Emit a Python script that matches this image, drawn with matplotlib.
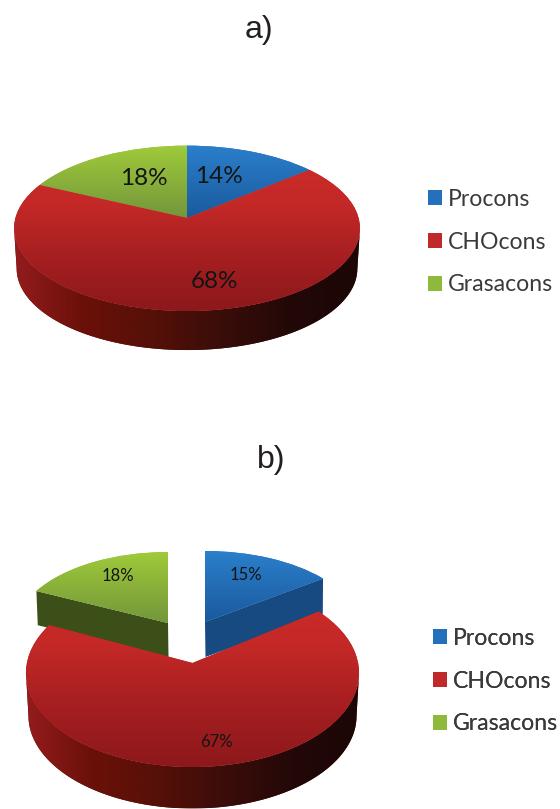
import numpy as np
import matplotlib
matplotlib.use("Agg")
import matplotlib.pyplot as plt
from matplotlib.colors import LinearSegmentedColormap as LSC
from matplotlib.patches import Polygon, Patch
from matplotlib.transforms import Transform

categories = ["Procons", "CHOcons", "Grasacons"]
values_a = [14, 68, 18]
values_b = [15, 67, 18]
panel_titles = ["a)", "b)"]

BLUE = "#2470bb"; RED = "#c0282a"; GREEN = "#8fb93b"
top_maps = [LSC.from_list("b", ["#2b7fcb", "#1a5a9e"]),
            LSC.from_list("r", [(0, "#cc2c29"), (0.35, "#c42927"), (0.7, "#a41e20"), (1, "#8c181b")]),
            LSC.from_list("g", ["#9fcb3b", "#73963a"])]
side_map = LSC.from_list("s", ["#941c1d", "#6a1009", "#551008", "#3a0d0a", "#230808", "#1c0606"])


class Persp(Transform):
    """Projects the unit-circle pie onto a tilted plane, in pixel coordinates."""
    input_dims = output_dims = 2
    is_separable = False

    def __init__(self, cx, cy, A, B, k):
        super().__init__()
        self.p = (cx, cy, A, B, k)

    def transform_non_affine(self, v):
        v = np.asarray(v, float)
        cx, cy, A, B, k = self.p
        w = 1 + k * v[:, 1]
        return np.column_stack([cx + A * v[:, 0] / w, cy - B * v[:, 1] / w])


def unit(deg):
    t = np.radians(deg)
    return np.column_stack([np.cos(t), np.sin(t)])


def gradient(ax, patch, cmap, x0, x1, y0, y1, horizontal, z):
    g = np.linspace(0, 1, 256)
    arr = g[None, :] if horizontal else g[:, None]
    im = ax.imshow(arr, extent=[x0, x1, y1, y0], cmap=cmap, vmin=0, vmax=1,
                   aspect="auto", zorder=z, interpolation="bilinear")
    im.set_clip_path(patch)


def front_arc(T, th):
    pts = T.transform(unit(th))
    i, j = np.argmax(pts[:, 0]), np.argmin(pts[:, 0])
    return pts[min(i, j):max(i, j) + 1]


def draw_pie(ax, values, geoms, depth_geoms, cut_colors, z0):
    """geoms: one projection per wedge; the largest wedge is drawn last."""
    wedges, _ = ax.pie(values, startangle=90, counterclock=False, radius=1,
                       colors=[BLUE, RED, GREEN])
    edges = 90 - 3.6 * np.cumsum([0] + list(values))
    z = z0
    for i in [0, 2, 1]:
        P = Persp(*geoms[i]); Q = Persp(*depth_geoms[i])
        a0, a1 = edges[i], edges[i + 1]
        if i == 1:  # outer wall, front of the big slice
            th = np.linspace(a0, a1, 480)
            pts = np.vstack([front_arc(P, th), front_arc(Q, th)[::-1]])
            wall = Polygon(pts, closed=True, fc="#4a0f0a", ec="none", zorder=z)
            ax.add_patch(wall)
            gradient(ax, wall, side_map, pts[:, 0].min(), pts[:, 0].max(),
                     pts[:, 1].min(), pts[:, 1].max(), True, z + 0.1)
        elif cut_colors is not None:  # radial cut face
            ang = a1 if i == 0 else a0
            e = np.vstack([[0, 0], unit([ang])])
            pts = np.vstack([P.transform(e), Q.transform(e)[::-1]])
            ax.add_patch(Polygon(pts, closed=True, fc=cut_colors[i], ec="none", zorder=z))
        w = wedges[i]
        w.set_transform(P + ax.transData)
        w.set_zorder(z + 0.2)
        w.set_edgecolor("none")
        th = np.linspace(a0, a1, 120)
        rim = P.transform(np.vstack([unit(th), [[0, 0]]]))
        if i == 1:
            full = P.transform(unit(np.linspace(0, 360, 361)))
            y0, y1 = full[:, 1].min(), full[:, 1].max()
        else:
            y0, y1 = rim[:, 1].min(), rim[:, 1].max()
        gradient(ax, w, top_maps[i], rim[:, 0].min() - 2, rim[:, 0].max() + 2,
                 y0, y1, False, z + 0.3)
        z += 1
    return z


fig = plt.figure(figsize=(5.6, 8.09), dpi=100, facecolor="white")
ax = fig.add_axes([0, 0, 1, 1])

g_a = (187, 218, 171.6, 81.4, 0.125)
gd_a = (187, 258.4, 169, 80.2, 0.125)
z = draw_pie(ax, values_a, [g_a] * 3, [gd_a] * 3, None, 1)

g_b = [(205, 622, 155, 78.5, 0.106),
       (192.5, 663, 165.6, 93, 0.106),
       (168, 623, 152, 78.5, 0.106)]
gd_b = [(205.5, 657, 154, 78, 0.106),
        (192.5, 706, 163.1, 91.6, 0.106),
        (168.5, 657, 151, 78, 0.106)]
z = draw_pie(ax, values_b, g_b, gd_b, ["#174a80", "#3c4f19", "#3c4f19"], z + 1)
z += 1

ax.set_xlim(0, 560)
ax.set_ylim(809, 0)
ax.set_aspect("auto")
ax.axis("off")

LAB = ["Lato", "DejaVu Sans"]
for v, (x, y) in zip(values_a, [(219, 176), (215, 282), (144, 178)]):
    ax.text(x, y, f"{v}%", fontsize=17.5, family=LAB, color="#141414",
            ha="center", va="center", zorder=z)
for v, (x, y) in zip(values_b, [(246, 575), (216, 742), (118, 576)]):
    ax.text(x, y, f"{v}%", fontsize=12, family=LAB, color="#141414",
            ha="center", va="center", zorder=z)

ax.text(259, 30, panel_titles[0], fontsize=23, family="Liberation Sans", color="#231f20",
        ha="center", va="center", zorder=z)
ax.text(271, 460, panel_titles[1], fontsize=23, family="Liberation Sans", color="#231f20",
        ha="center", va="center", zorder=z)

handles = [Patch(fc=c, ec="none", label=n) for c, n in zip([BLUE, RED, GREEN], categories)]
anchors = [(428, 189), (433, 628)]
for anchor in anchors:
    leg = ax.legend(handles=handles, loc="upper left", bbox_to_anchor=anchor,
                    bbox_transform=ax.transData, frameon=False, borderpad=0, borderaxespad=0,
                    prop={"family": "Lato", "size": 16.6}, labelcolor="#3a3a3c",
                    handlelength=0.62, handleheight=0.62, handletextpad=0.26,
                    labelspacing=0.94)
    leg.set_zorder(z)
    ax.add_artist(leg)

fig.savefig("out.png", dpi=100, facecolor="white")
